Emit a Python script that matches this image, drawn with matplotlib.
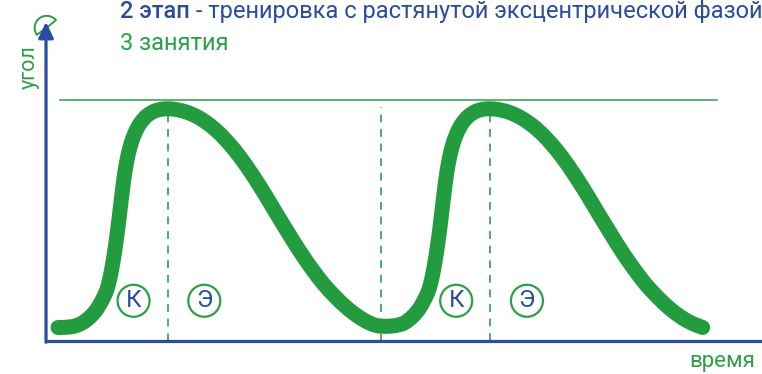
import matplotlib
matplotlib.use('Agg')
import matplotlib.pyplot as plt
from matplotlib.patches import Circle, Wedge, PathPatch
from matplotlib.path import Path
from matplotlib.transforms import IdentityTransform, ScaledTranslation

# ── Data (time in % of one repetition, angle in % of max) ─────────────────────
TIME = [0, 3.1, 6.25, 9.1, 11.6, 13.1, 14.4, 15.3, 16.25, 17.2, 18.1, 19.1,
        20.0, 20.9, 21.9, 23.1, 24.7, 26.6, 28.75, 31.25, 34.4,
        38.1, 41.9, 45.6, 49.4, 53.1, 56.9, 60.6, 64.4, 68.1, 71.9, 75.6,
        79.4, 83.1, 86.9, 90.6, 94.4, 97.5, 100.6,
        106.9, 109.7, 112.2, 113.7, 115.0, 115.9, 116.85, 117.8, 118.7, 119.7,
        120.6, 121.5, 122.5, 123.7, 125.3, 127.2, 129.35, 131.85, 135.0,
        138.7, 142.5, 146.2, 150.0, 153.7, 157.5, 161.2, 165.0, 168.7, 172.5,
        176.2, 180.0, 183.7, 187.5, 191.2, 195.0, 198.1, 201.4]
ANGLE = [0, 0, 0.9, 3.4, 7.1, 10.5, 14.2, 17.1, 22.6, 29.9, 38.6, 50.0,
         61.4, 71.5, 79.2, 85.6, 91.1, 95.2, 97.9, 99.5, 100,
         99.3, 97.5, 94.5, 90.2, 84.7, 77.9, 70.1, 61.4, 52.3, 43.2, 34.5,
         26.5, 19.4, 13.5, 8.4, 4.3, 1.8, 0.3,
         0.9, 3.4, 7.1, 10.5, 14.2, 17.1, 22.6, 29.9, 38.6, 50.0,
         61.4, 71.5, 79.2, 85.6, 91.1, 95.2, 97.9, 99.5, 100,
         99.3, 97.5, 94.5, 90.2, 84.7, 77.9, 70.1, 61.4, 52.3, 43.2,
         34.5, 26.5, 19.4, 13.5, 8.4, 4.3, 1.8, 0]

PEAK_TIMES = [34.4, 135.0]          # end of concentric phase
VALLEY_TIMES = [100.9]              # end of repetition
MAX_ANGLE = 103.9
PHASE_LABELS = [('К', 23.6), ('Э', 45.7), ('К', 124.4), ('Э', 146.5)]
PHASE_Y = 12.2

TITLE_BOLD = '2 этап'
TITLE_REST = ' - тренировка с растянутой эксцентрической фазой'
SUBTITLE = '3 занятия'
Y_LABEL = 'угол'
X_LABEL = 'время'

# ── Style ─────────────────────────────────────────────────────────────────────
BLUE = '#2b4c9e'
GREEN = '#239b3f'
GREEN_TXT = '#2ba045'
GREEN_DASH = '#4eaa68'
FONT = ['Roboto', 'DejaVu Sans']

fig = plt.figure(figsize=(7.62, 3.74), dpi=100)
ax = fig.add_axes([0, 0, 1, 1])
ax.set_xlim(-18.125, 219.94)
ax.set_ylim(-21.23, 149.5)
ax.axis('off')

AX_X = -3.75
AX_Y = -6.16

def px_at(x, y):
    """transform: pixel-sized shapes centred on a data point"""
    return IdentityTransform() + ScaledTranslation(x, y, ax.transData)

# axes
ax.plot([AX_X, 222], [AX_Y, AX_Y], color=BLUE, lw=2.3, solid_capstyle='butt', zorder=3)
ax.annotate('', xy=(AX_X, 139.5), xytext=(AX_X, AX_Y - 0.6),
            arrowprops=dict(arrowstyle='-|>,head_length=0.95,head_width=0.45',
                            color=BLUE, lw=2.3, shrinkA=0, shrinkB=0), zorder=3)

# angle icon at y-axis tip
icon = Wedge((0, 0), 12, 40, 215, fill=False, edgecolor=GREEN_TXT, lw=1.4, zorder=2)
icon.set_transform(px_at(AX_X + 0.2, 136.8))
ax.add_artist(icon)

# max line
ax.plot([0.6, 206], [MAX_ANGLE, MAX_ANGLE], color=GREEN_TXT, lw=1.1, zorder=1)

# dashed phase lines
for t in PEAK_TIMES + VALLEY_TIMES:
    ax.plot([t, t], [AX_Y, 100.5], color=GREEN_DASH, lw=1.4,
            dashes=(4, 3.5), zorder=1)

# curve: smooth quadratic path through the read points
pts = list(zip(TIME, ANGLE))
verts = [pts[0]]
codes = [Path.MOVETO]
for i in range(1, len(pts) - 1):
    mid = ((pts[i][0] + pts[i + 1][0]) / 2, (pts[i][1] + pts[i + 1][1]) / 2)
    verts += [pts[i], mid]
    codes += [Path.CURVE3, Path.CURVE3]
verts.append(pts[-1])
codes.append(Path.LINETO)
ax.add_patch(PathPatch(Path(verts, codes), fill=False, edgecolor=GREEN, lw=10.8,
                       capstyle='round', joinstyle='round', zorder=4))

# phase labels
for lbl, t in PHASE_LABELS:
    c = Circle((0, 0), 16, fill=False, edgecolor=GREEN_TXT, lw=1.6, zorder=5)
    c.set_transform(px_at(t, PHASE_Y))
    ax.add_artist(c)
    ax.text(t, PHASE_Y, lbl, ha='center', va='center', fontsize=17.5,
            color=BLUE, family=FONT, fontweight='normal', zorder=6)

# titles
t1 = fig.text(120 / 762, 1 - 23 / 374, TITLE_BOLD, ha='left', va='bottom',
              fontsize=17, color=BLUE, family=FONT, fontweight='medium')
ax.annotate(TITLE_REST, xy=(1, 0), xycoords=t1, ha='left', va='bottom',
            fontsize=17, color=BLUE, family=FONT, fontweight='normal')
fig.text(120 / 762, 1 - 55 / 374, SUBTITLE, ha='left', va='bottom',
         fontsize=17, color=GREEN_TXT, family=FONT, fontweight='normal')

# axis labels
fig.text(29 / 762, 1 - 67 / 374, Y_LABEL, rotation=90, ha='center', va='center',
         fontsize=15.5, color=GREEN_TXT, family=FONT, fontweight='normal')
fig.text(755 / 762, 1 - 362 / 374, X_LABEL, ha='right', va='center',
         fontsize=16, color=GREEN_TXT, family=FONT, fontweight='normal')

fig.savefig('out.png', dpi=100, facecolor='white')
